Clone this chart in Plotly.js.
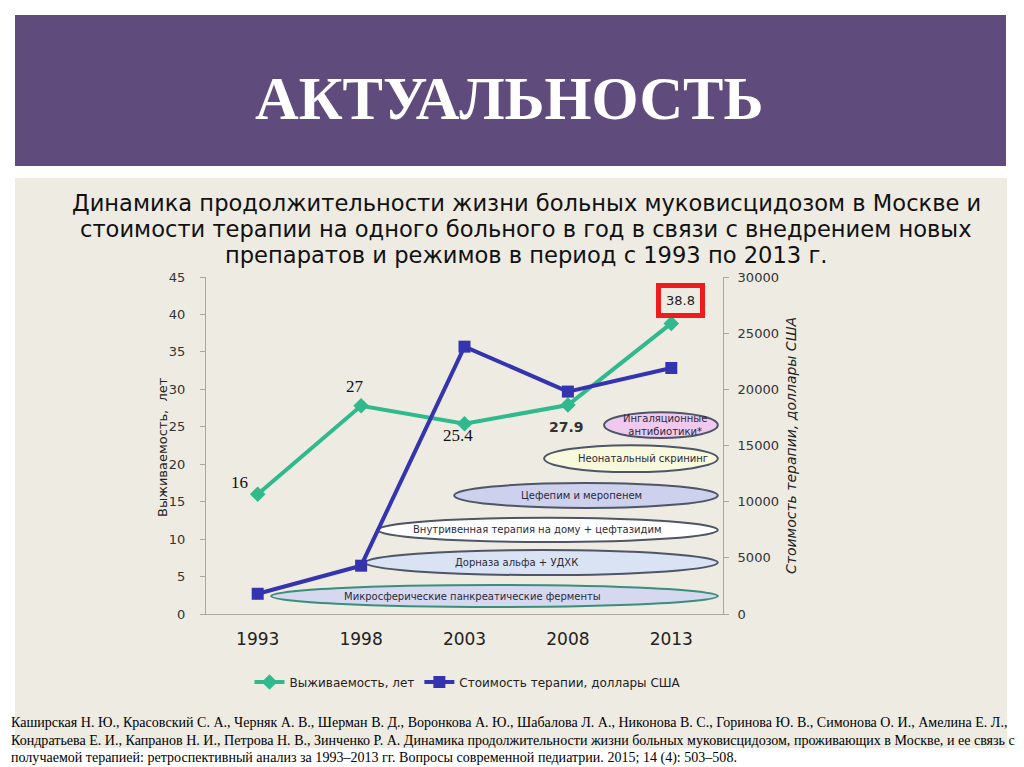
<!DOCTYPE html>
<html><head><meta charset="utf-8">
<script src="https://cdn.plot.ly/plotly-3.0.1.min.js"></script>
<style>html,body{margin:0;padding:0;background:#fff;} #chart{width:1024px;height:767px;}</style>
</head><body><div id="chart"></div>
<script>
// ---- data ----
const years = ['1993', '1998', '2003', '2008', '2013'];
const survival = [16, 27.8, 25.4, 27.9, 38.8];
const survivalLabels = ['16', '27', '25.4', '27.9', '38.8'];
const cost = [1800, 4300, 23800, 19800, 21900];
const therapies = [
  'Микросферические панкреатические ферменты',
  'Дорназа альфа + УДХК',
  'Внутривенная терапия на дому + цефтазидим',
  'Цефепим и меропенем',
  'Неонатальный скрининг',
  'Ингаляционные<br>антибиотики*'
];
const seriesNames = ['Выживаемость, лет', 'Стоимость терапии, доллары США'];
const titleText = 'АКТУАЛЬНОСТЬ';
const subtitleLines = [
  'Динамика продолжительности жизни больных муковисцидозом в Москве и',
  'стоимости терапии на одного больного в год в связи с внедрением новых',
  'препаратов и режимов в период с 1993 по 2013 г.'
];
const footnoteLines = [
  'Каширская Н. Ю., Красовский С. А., Черняк А. В., Шерман В. Д., Воронкова А. Ю., Шабалова Л. А., Никонова В. С., Горинова Ю. В., Симонова О. И., Амелина Е. Л.,',
  'Кондратьева Е. И., Капранов Н. И., Петрова Н. В., Зинченко Р. А. Динамика продолжительности жизни больных муковисцидозом, проживающих в Москве, и ее связь с',
  'получаемой терапией: ретроспективный анализ за 1993–2013 гг. Вопросы современной педиатрии. 2015; 14 (4): 503–508.'
];

// ---- layout / style config ----
const W = 1024, H = 767;
const px = v => v / W;
const py = v => 1 - v / H;
const ellipseStyle = [
  {x0: 0.13, x1: 4.45, y0: 0.93, y1: 3.87, fill: '#d6d8f0', line: '#3a8f7a', tx: 2.08},
  {x0: 1.04, x1: 4.45, y0: 5.2, y1: 8.55, fill: '#d9e3f3', line: '#4d5566', tx: 2.5},
  {x0: 1.16, x1: 4.45, y0: 9.6, y1: 12.85, fill: '#ffffff', line: '#4d5566', tx: 2.7},
  {x0: 1.9, x1: 4.45, y0: 14.15, y1: 17.5, fill: '#cdd1ee', line: '#4d5566', tx: 3.13},
  {x0: 2.77, x1: 4.45, y0: 18.95, y1: 22.55, fill: '#f8f8dc', line: '#4d5566', tx: 3.73},
  {x0: 3.35, x1: 4.45, y0: 23.5, y1: 26.95, fill: '#efc9ee', line: '#4d5566', tx: 3.94}
];
const labelOffsets = [[-18, 12], [-6, 19], [-7, -12], [-1, -22], [9, 23]];

const shapes = [
  {type: 'rect', xref: 'paper', yref: 'paper', x0: px(15), x1: px(1006), y0: py(166), y1: py(15),
   fillcolor: '#604c7c', line: {width: 0}, layer: 'below'},
  {type: 'rect', xref: 'paper', yref: 'paper', x0: px(15), x1: px(1007), y0: py(748), y1: py(178),
   fillcolor: '#eeebe2', line: {width: 0}, layer: 'below'}
];
ellipseStyle.forEach(e => shapes.push({
  type: 'circle', xref: 'x', yref: 'y', x0: e.x0, x1: e.x1, y0: e.y0, y1: e.y1,
  fillcolor: e.fill, line: {color: e.line, width: 2}, layer: 'below'
}));

const annotations = [];
annotations.push({xref: 'paper', yref: 'paper', x: px(509), y: py(98), xanchor: 'center', yanchor: 'middle',
  text: titleText, showarrow: false, font: {family: 'Liberation Serif, serif', size: 60.5, color: '#ffffff', weight: 'bold'}});
subtitleLines.forEach((t, i) => annotations.push({xref: 'paper', yref: 'paper', x: px(526), y: py(203 + 26 * i),
  xanchor: 'center', yanchor: 'middle', text: t, showarrow: false,
  font: {family: 'DejaVu Sans, sans-serif', size: 22.6, color: '#111'}}));
footnoteLines.forEach((t, i) => annotations.push({xref: 'paper', yref: 'paper', x: px(9), y: py(722 + 17.5 * i),
  xanchor: 'left', yanchor: 'middle', text: t, showarrow: false,
  font: {family: 'Liberation Serif, serif', size: 14.05, color: '#000'}}));
therapies.forEach((t, i) => {
  const e = ellipseStyle[i];
  annotations.push({xref: 'x', yref: 'y', x: e.tx, y: (e.y0 + e.y1) / 2, xanchor: 'center', yanchor: 'middle',
    text: t, showarrow: false, font: {family: 'DejaVu Sans, sans-serif', size: 10, color: '#2a2a3a'}});
});
survivalLabels.forEach((t, i) => {
  const a = {xref: 'x', yref: 'y', x: i, y: survival[i], text: t, showarrow: false,
    xshift: labelOffsets[i][0], yshift: labelOffsets[i][1], xanchor: 'center', yanchor: 'middle',
    font: {family: 'Liberation Serif, serif', size: 17, color: '#111'}};
  if (i === 3) a.font = {family: 'DejaVu Sans, sans-serif', size: 14, color: '#333', weight: 'bold'};
  if (i === 4) {
    a.font = {family: 'DejaVu Sans, sans-serif', size: 13, color: '#222'};
    a.bordercolor = '#ee1c1c'; a.borderwidth = 5; a.borderpad = 5; a.bgcolor = '#eeebe2';
  }
  annotations.push(a);
});
annotations.push({xref: 'paper', yref: 'paper', x: px(162), y: py(447), textangle: -90, text: 'Выживаемость,  лет',
  showarrow: false, xanchor: 'center', yanchor: 'middle', font: {family: 'DejaVu Sans, sans-serif', size: 13, color: '#222'}});
annotations.push({xref: 'paper', yref: 'paper', x: px(791), y: py(446), textangle: -90, text: seriesNames[1],
  showarrow: false, xanchor: 'center', yanchor: 'middle', font: {family: 'DejaVu Sans, sans-serif', size: 14, color: '#222', style: 'italic'}});

const traces = [
  {x: years, y: survival, name: seriesNames[0], type: 'scatter', mode: 'lines+markers',
   line: {color: '#2fb98c', width: 4}, marker: {symbol: 'diamond', size: 12, color: '#2fb98c'}},
  {x: years, y: cost, name: seriesNames[1], type: 'scatter', mode: 'lines+markers', yaxis: 'y2',
   line: {color: '#3434b0', width: 4}, marker: {symbol: 'square', size: 12, color: '#3434b0'}}
];

const layout = {
  width: W, height: H, margin: {l: 0, r: 0, t: 0, b: 0},
  paper_bgcolor: '#ffffff', plot_bgcolor: 'rgba(0,0,0,0)',
  showlegend: true,
  legend: {orientation: 'h', x: px(468), y: py(682), xanchor: 'center', yanchor: 'middle', itemwidth: 30,
    font: {family: 'DejaVu Sans, sans-serif', size: 12, color: '#222'}, bgcolor: 'rgba(0,0,0,0)'},
  xaxis: {type: 'category', domain: [px(206), px(723)], range: [-0.5, 4.5], showgrid: false, zeroline: false,
    showline: true, linecolor: '#a8a8a0', linewidth: 1, ticks: '', ticklabelstandoff: 10,
    tickfont: {family: 'DejaVu Sans, sans-serif', size: 17, color: '#222'}},
  yaxis: {domain: [py(614), py(277)], range: [0, 45], dtick: 5, showgrid: false, zeroline: false,
    showline: true, linecolor: '#a8a8a0', ticks: 'outside', ticklen: 5, tickcolor: '#a8a8a0', ticklabelstandoff: 12,
    tickfont: {family: 'DejaVu Sans, sans-serif', size: 13, color: '#333'}},
  yaxis2: {overlaying: 'y', side: 'right', anchor: 'x', range: [0, 30000], dtick: 5000, tickformat: 'd',
    showgrid: false, zeroline: false,
    showline: true, linecolor: '#a8a8a0', ticks: 'outside', ticklen: 5, tickcolor: '#a8a8a0', ticklabelstandoff: 6,
    tickfont: {family: 'DejaVu Sans, sans-serif', size: 13, color: '#333'}},
  shapes: shapes,
  annotations: annotations
};

Plotly.newPlot('chart', traces, layout, {displayModeBar: false, staticPlot: true});
</script>
</body></html>
